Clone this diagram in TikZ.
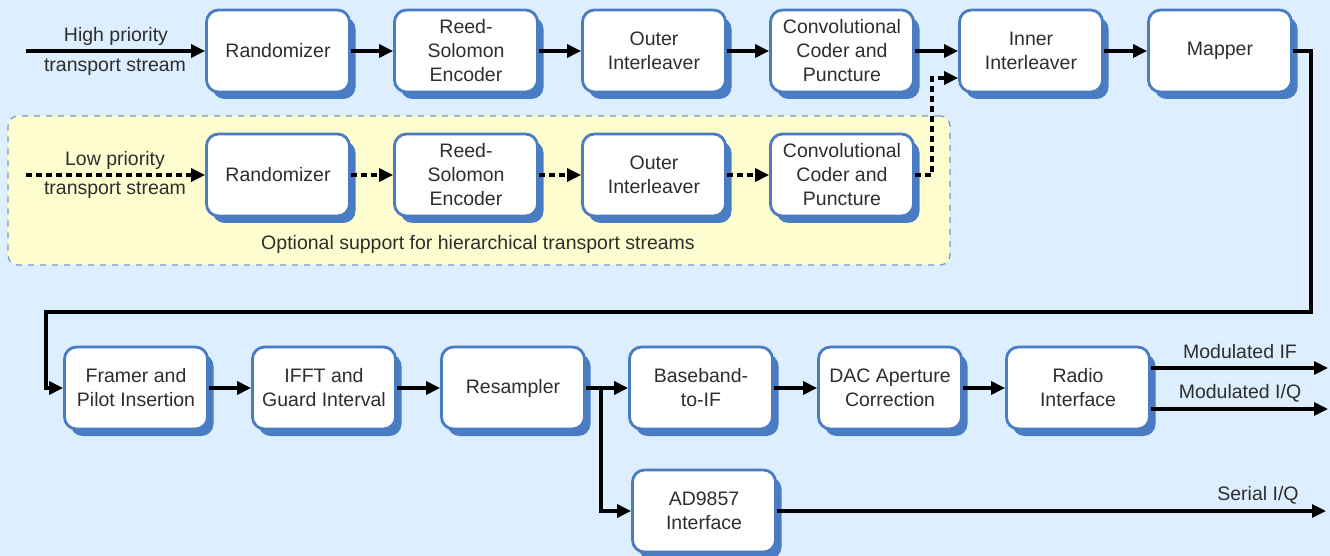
\documentclass[tikz,border=0pt]{standalone}
\usepackage{fontspec}
\setmainfont{Liberation Sans}
\usetikzlibrary{arrows.meta,shadows}
\definecolor{bg}{HTML}{DDEEFE}
\definecolor{yel}{HTML}{FEFDCF}
\definecolor{boxblue}{HTML}{4A7CC4}
\definecolor{dashblue}{HTML}{7399CC}
\definecolor{txt}{HTML}{2E2E2E}
\begin{document}
\begin{tikzpicture}[x=0.5pt,y=-0.5pt,
  lblfont/.style={font=\fontsize{9.75}{12}\selectfont, text=txt},
  blk/.style={lblfont, draw=boxblue, line width=1.4pt, fill=white, rounded corners=6pt,
    minimum width=71.5pt, minimum height=41pt, align=center, inner sep=1pt,
    drop shadow={shadow xshift=3pt, shadow yshift=-3.5pt, fill=boxblue, opacity=1}},
  flow/.style={line width=1.6pt, -{Triangle[length=7pt,width=6.5pt]}},
  dflow/.style={flow, dash pattern=on 3pt off 2pt},
  lbl/.style={lblfont, inner sep=0pt, align=center}
]
\useasboundingbox[fill=bg] (0,0) rectangle (1330,556);

% optional region
\node[draw=dashblue, fill=yel, dashed, rounded corners=5pt, line width=0.6pt,
  minimum width=471pt, minimum height=74.5pt, inner sep=0pt] (opt) at (479,190.5) {};
\node[lbl] (optlbl) at (478,244) {Optional support for hierarchical transport streams};

% top row
\node[blk] (r1)  at (278,51)  {Randomizer};
\node[blk] (rs1) at (466,51)  {Reed-\\Solomon\\Encoder};
\node[blk] (oi1) at (654,51)  {Outer\\Interleaver};
\node[blk] (cv1) at (842,51)  {Convolutional\\Coder and\\Puncture};
\node[blk] (ii)  at (1031,51) {Inner\\Interleaver};
\node[blk] (mp)  at (1220,51) {Mapper};

% second row
\node[blk] (r2)  at (278,175) {Randomizer};
\node[blk] (rs2) at (466,175) {Reed-\\Solomon\\Encoder};
\node[blk] (oi2) at (654,175) {Outer\\Interleaver};
\node[blk] (cv2) at (842,175) {Convolutional\\Coder and\\Puncture};

% bottom row
\node[blk] (fr)  at (136,388)  {Framer and\\Pilot Insertion};
\node[blk] (ifft) at (324,388) {IFFT and\\Guard Interval};
\node[blk] (rsm) at (513,388)  {Resampler};
\node[blk] (bb)  at (701,388)  {Baseband-\\to-IF};
\node[blk] (dac) at (890,388)  {DAC Aperture\\Correction};
\node[blk] (ri)  at (1078,388) {Radio\\Interface};
\node[blk] (ad)  at (704,511)  {AD9857\\Interface};

% inputs
\coordinate (inH) at (26,51);
\coordinate (inL) at (26,175);
\node[lbl] (hp1) at (116,36) {High priority};
\node[lbl] (hp2) at (115,67) {transport stream};
\node[lbl] (lp1) at (115,160) {Low priority};
\node[lbl] (lp2) at (115,190) {transport stream};
\draw[flow] (inH) -- (r1);
\draw[dflow] (inL) -- (r2);

% top chain
\draw[flow] (r1) -- (rs1);
\draw[flow] (rs1) -- (oi1);
\draw[flow] (oi1) -- (cv1);
\draw[flow] (cv1) -- (ii);
\draw[flow] (ii) -- (mp);

% second chain
\draw[dflow] (r2) -- (rs2);
\draw[dflow] (rs2) -- (oi2);
\draw[dflow] (oi2) -- (cv2);
\coordinate (iiin) at ([yshift=-13.5pt]ii.west);
\draw[dflow] (cv2.east) -- (932,175) |- (iiin);

% mapper loop
\draw[flow] (mp.east) -- (1311,51) -- (1311,312) -- (46,312) |- (fr.west);

% bottom chain
\draw[flow] (fr) -- (ifft);
\draw[flow] (ifft) -- (rsm);
\draw[flow] (rsm) -- (bb);
\coordinate (sp) at (601,388);
\draw[flow] (sp) |- (ad.west);
\draw[flow] (bb) -- (dac);
\draw[flow] (dac) -- (ri);

% outputs
\coordinate (oIF) at (1328,368);
\coordinate (oIQ) at (1328,409);
\coordinate (oSer) at (1326,511);
\draw[flow] ([yshift=10pt]ri.east) -- (oIF);
\draw[flow] ([yshift=-10.5pt]ri.east) -- (oIQ);
\draw[flow] (ad.east) -- (oSer);
\node[lbl] (lIF) at (1240,352) {Modulated IF};
\node[lbl] (lIQ) at (1240,393) {Modulated I/Q};
\node[lbl] (lSer) at (1258,495) {Serial I/Q};
\end{tikzpicture}
\end{document}
